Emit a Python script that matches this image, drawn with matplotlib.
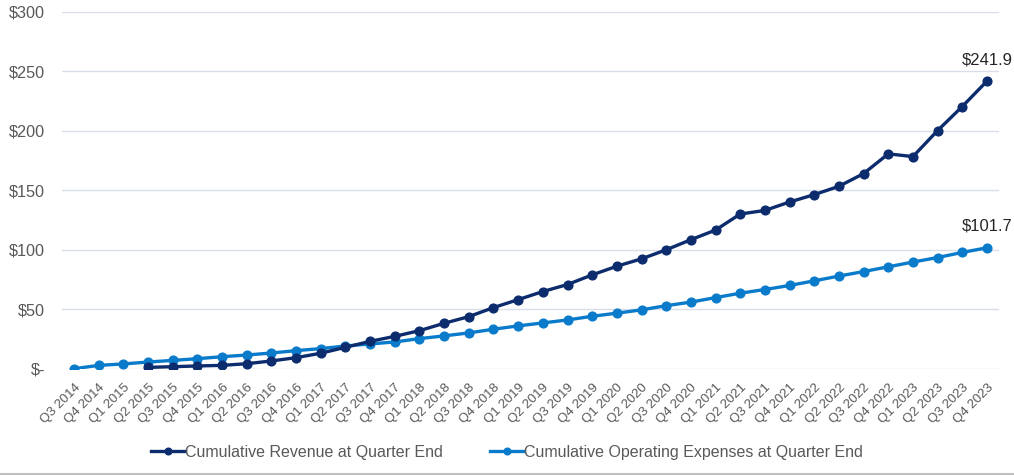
import matplotlib
matplotlib.use("Agg")
import matplotlib.pyplot as plt
from matplotlib.lines import Line2D
import numpy as np

quarters = ["Q3 2014", "Q4 2014",
            "Q1 2015", "Q2 2015", "Q3 2015", "Q4 2015",
            "Q1 2016", "Q2 2016", "Q3 2016", "Q4 2016",
            "Q1 2017", "Q2 2017", "Q3 2017", "Q4 2017",
            "Q1 2018", "Q2 2018", "Q3 2018", "Q4 2018",
            "Q1 2019", "Q2 2019", "Q3 2019", "Q4 2019",
            "Q1 2020", "Q2 2020", "Q3 2020", "Q4 2020",
            "Q1 2021", "Q2 2021", "Q3 2021", "Q4 2021",
            "Q1 2022", "Q2 2022", "Q3 2022", "Q4 2022",
            "Q1 2023", "Q2 2023", "Q3 2023", "Q4 2023"]

revenue = [None, None, None,
           1.1, 1.7, 2.3, 2.8, 4.2, 6.5, 9.3, 13.0, 18.0,
           23.0, 27.2, 32.0, 38.2, 43.8, 51.4, 58.1, 64.9, 70.8, 78.9,
           86.2, 92.4, 100.0, 108.5, 116.6, 130.1, 133.1, 140.2, 146.4,
           153.4, 164.1, 180.7, 178.4, 200.3, 220.5, 241.9]

expenses = [0.0, 2.8, 4.0, 5.6, 7.0, 8.4, 10.1, 11.5, 13.2, 15.2, 16.9, 19.1,
            20.8, 22.5, 25.3, 27.6, 30.1, 33.2, 36.0, 38.5, 41.0, 44.1,
            46.7, 49.5, 53.0, 56.0, 59.8, 63.5, 66.6, 70.0, 73.9,
            77.9, 81.7, 85.7, 89.7, 93.5, 97.8, 101.7]

yticks = [0, 50, 100, 150, 200, 250, 300]
ytick_labels = ["$-", "$50", "$100", "$150", "$200", "$250", "$300"]

series_names = ["Cumulative Revenue at Quarter End",
                "Cumulative Operating Expenses at Quarter End"]

plt.rcParams['font.family'] = ['Liberation Sans', 'DejaVu Sans']

W, H = 1014, 475
fig = plt.figure(figsize=(W / 100, H / 100), dpi=100)
ax = fig.add_axes([61.7 / W, 1 - 368.7 / H, (999.3 - 61.7) / W, (368.7 - 12) / H])

x = np.arange(len(quarters))
rev = np.array([np.nan if v is None else v for v in revenue], dtype=float)
exp_ = np.array(expenses, dtype=float)

c_rev = "#0C2C6E"
c_exp = "#0A7BCB"

ax.plot(x, exp_, color=c_exp, lw=2.4, marker="o", ms=6.3, zorder=3)
ax.plot(x, rev, color=c_rev, lw=2.4, marker="o", ms=6.3, zorder=4)

ax.set_xlim(-0.5, len(quarters) - 0.5)
ax.set_ylim(0, 300)
ax.set_yticks(yticks)
ax.set_yticklabels(ytick_labels)
ax.set_xticks(x)
ax.set_xticklabels(quarters, rotation=45, ha="right", va="top", rotation_mode="anchor")

ax.grid(axis="y", color="#D9DEE8", lw=1.0)
ax.set_axisbelow(True)
for s in ax.spines.values():
    s.set_visible(False)
ax.tick_params(axis="both", length=0, colors="#595959")
ax.tick_params(axis="y", labelsize=11.7, pad=12)
ax.tick_params(axis="x", labelsize=9.5, pad=9)

ax.annotate(f"${rev[-1]:.1f}", (x[-1], rev[-1]), xytext=(0, 10), textcoords="offset points",
            ha="center", va="bottom", fontsize=12, color="#262626")
ax.annotate(f"${exp_[-1]:.1f}", (x[-1], exp_[-1]), xytext=(0, 10), textcoords="offset points",
            ha="center", va="bottom", fontsize=12, color="#262626")

handles = [Line2D([], [], color=c_rev, lw=2.4, marker="o", ms=4.8),
           Line2D([], [], color=c_exp, lw=2.4, marker="o", ms=4.8)]
fig.legend(handles, series_names, loc="center", bbox_to_anchor=(0.5, 1 - 452 / H),
           ncol=2, frameon=False, fontsize=11.5, labelcolor="#595959",
           handlelength=2.1, handletextpad=0.0, columnspacing=3.0)

fig.add_artist(Line2D([0, 1], [1 - 473.5 / H, 1 - 473.5 / H], transform=fig.transFigure,
                      color="#BFBFBF", lw=1.5))

fig.savefig("out.png", dpi=100)
